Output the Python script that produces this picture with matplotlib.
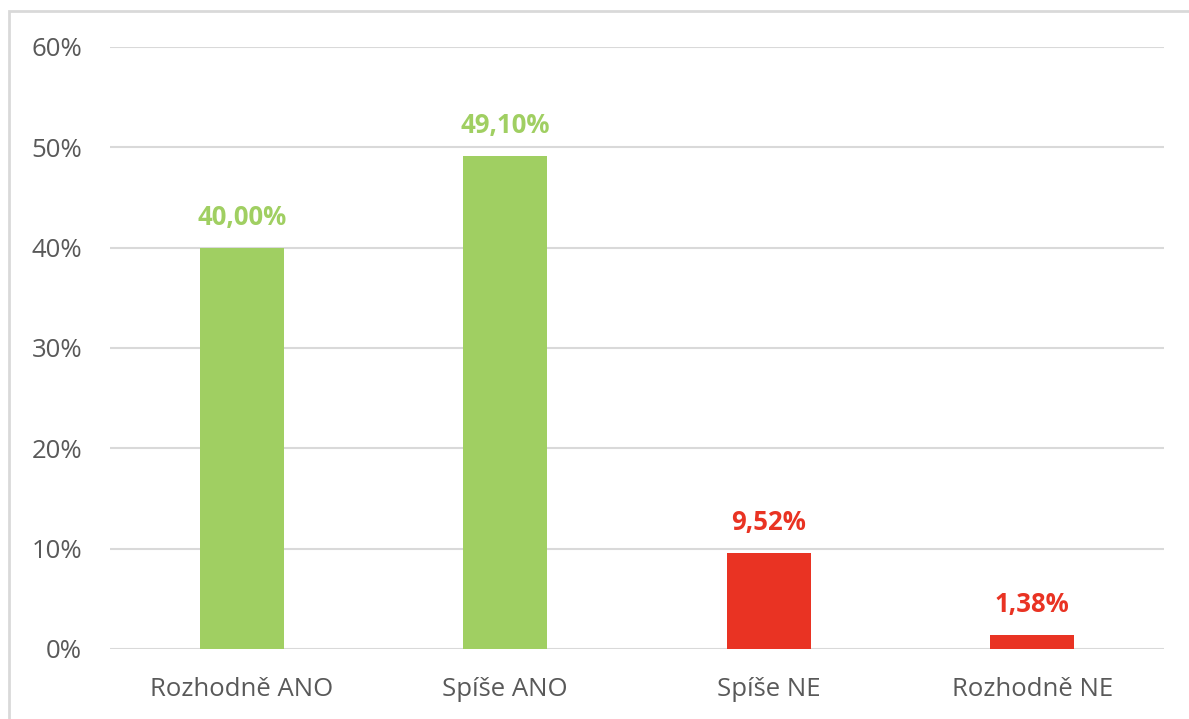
import matplotlib.pyplot as plt
from matplotlib.patches import Rectangle
from matplotlib.ticker import FuncFormatter

categories = ["Rozhodně ANO", "Spíše ANO", "Spíše NE", "Rozhodně NE"]
values = [40.00, 49.10, 9.52, 1.38]
labels = ["40,00%", "49,10%", "9,52%", "1,38%"]
colors = ["#A0CF62", "#A0CF62", "#E93323", "#E93323"]

plt.rcParams['font.family'] = ['Open Sans', 'DejaVu Sans']

W, H = 1189, 719
fig = plt.figure(figsize=(W / 100, H / 100), dpi=100)
ax = fig.add_axes([110 / W, 70 / H, (1164 - 110) / W, (649 - 47) / H])

# outer frame of the chart area
fig.patches.append(Rectangle((9 / W, -0.1), 1.2, (H - 11) / H + 0.1,
                             transform=fig.transFigure, fill=False,
                             edgecolor="#D9D9D9", linewidth=2))

x = range(len(categories))
ax.bar(x, values, width=0.32, color=colors, zorder=3)
for i, v in enumerate(values):
    ax.text(i, v + 1.7, labels[i], ha="center", va="bottom",
            fontsize=18.5, fontweight="bold", color=colors[i])

ax.set_xlim(-0.5, 3.5)
ax.set_ylim(0, 60)
ax.set_yticks(range(0, 61, 10))
ax.yaxis.set_major_formatter(FuncFormatter(lambda v, p: f"{v:.0f}%"))
ax.set_xticks(list(x))
ax.set_xticklabels(categories)
ax.grid(axis="y", color="#D9D9D9", linewidth=1.5, zorder=0)
for s in ax.spines.values():
    s.set_visible(False)
ax.tick_params(length=0, labelsize=18.5, colors="#595959")
ax.tick_params(axis="y", pad=20)
ax.tick_params(axis="x", pad=20)

fig.savefig("out.png", dpi=100)
